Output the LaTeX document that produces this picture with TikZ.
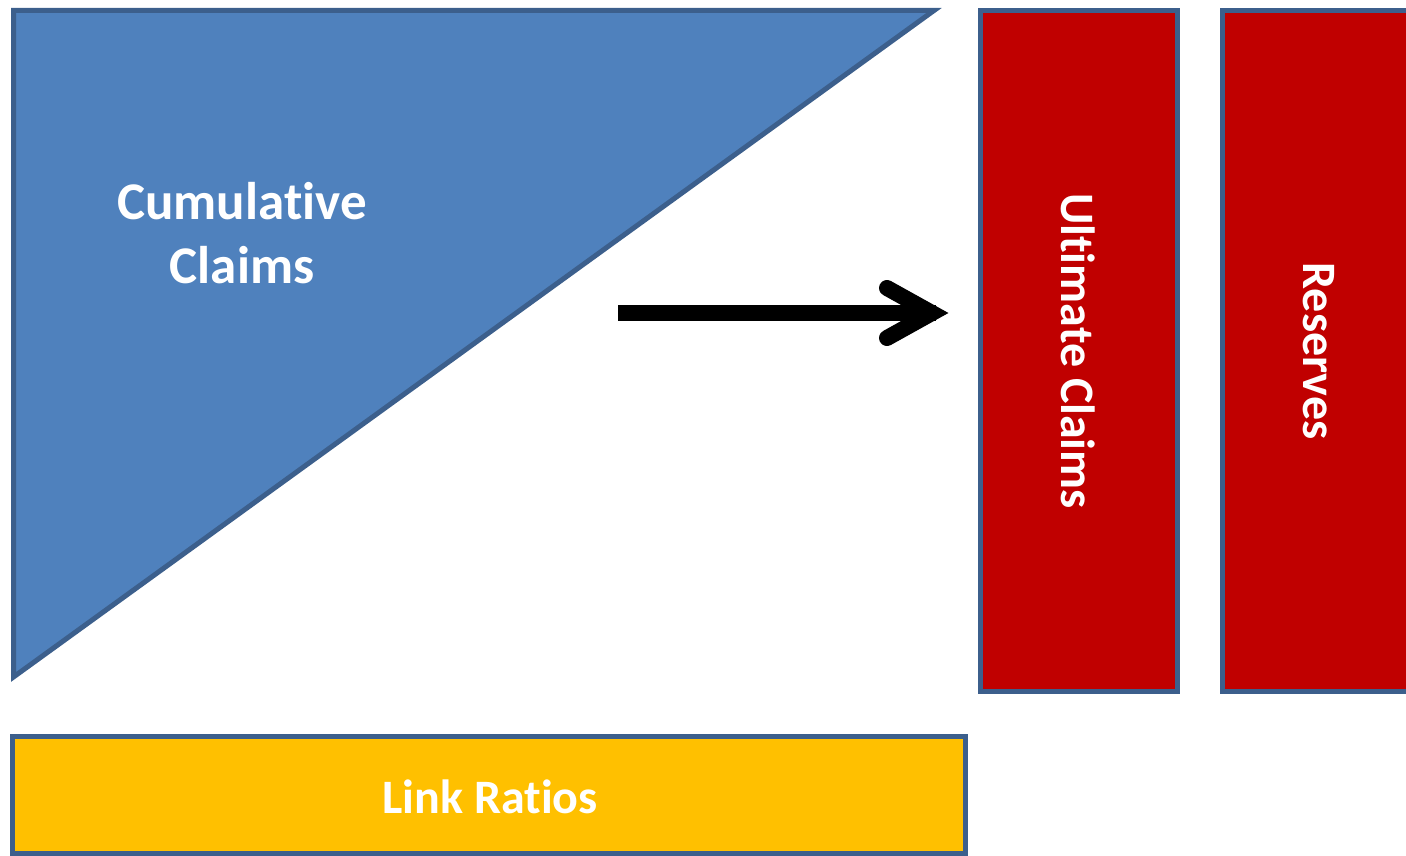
\documentclass[tikz,border=0pt]{standalone}
\usepackage{fontspec}
\setmainfont{Carlito}[Ligatures=CommonOff]
\usetikzlibrary{calc}
\definecolor{triblue}{HTML}{4F81BD}
\definecolor{edgeblue}{HTML}{3C5F8C}
\definecolor{boxred}{HTML}{C00000}
\definecolor{boxgold}{HTML}{FFC000}
\tikzset{
  panel/.style={draw=edgeblue, line width=5pt},
  label/.style={text=white, font=\fontsize{48}{64}\selectfont\bfseries, inner sep=0pt, align=center},
  bigarrow/.style={line width=16pt, draw=black}
}
\begin{document}
\begin{tikzpicture}[x=1pt, y=-1pt]
  \useasboundingbox (0,0) rectangle (1406,856);
  % triangle of cumulative claims
  \coordinate (tl) at (13.5,10.5);
  \coordinate (tr) at (934,10.5);
  \coordinate (bl) at (13.5,677);
  \filldraw[panel, fill=triblue, line join=miter] (tl) -- (tr) -- (bl) -- cycle;
  \node[label, font=\fontsize{53}{64}\selectfont\bfseries] (cum) at (242,233) {Cumulative\\Claims};
  % result columns
  \filldraw[panel, fill=boxred] (980.5,10.5) rectangle (1177.5,691.5);
  \filldraw[panel, fill=boxred] (1222.5,10.5) rectangle (1420,691.5);
  \node[label, rotate=-90] (ult) at (1078,351) {Ultimate Claims};
  \node[label, rotate=-90] (res) at (1319,351) {Reserves};
  % link ratios bar
  \filldraw[panel, fill=boxgold] (12.5,736.5) rectangle (965.5,853.5);
  \node[label] (link) at (490,797) {Link Ratios};
  % projection arrow
  \coordinate (astart) at (618,313);
  \coordinate (atip) at (932,313);
  \draw[bigarrow] (astart) -- ([xshift=4pt]atip);
  \draw[bigarrow, line cap=round, line join=miter]
    ($(atip)+(-45,-25)$) -- (atip) -- ($(atip)+(-45,25)$);
\end{tikzpicture}
\end{document}
